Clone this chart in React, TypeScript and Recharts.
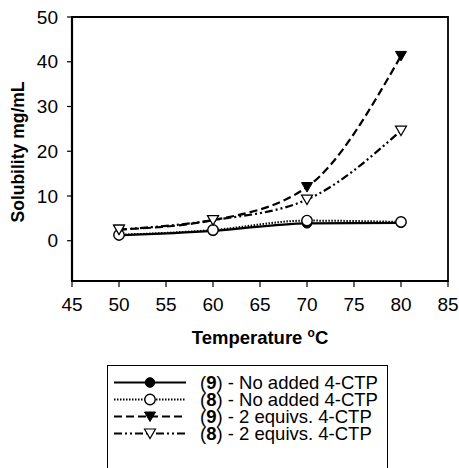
import React from 'react'
import {
  LineChart,
  Line,
  XAxis,
  YAxis,
  Legend,
  ReferenceArea,
} from 'recharts'

const temperatures = [50, 60, 70, 80]
const cmp9None = [1.2, 2.2, 3.9, 4.0]
const cmp8None = [1.3, 2.4, 4.5, 4.2]
const cmp9Equiv = [2.5, 4.6, 12.0, 41.3]
const cmp8Equiv = [2.5, 4.6, 9.2, 24.6]

const xTicks = [45, 50, 55, 60, 65, 70, 75, 80, 85]
const yTicks = [0, 10, 20, 30, 40, 50]

const FONT = '"Liberation Sans", Arial, sans-serif'

const data = temperatures.map((t, i) => ({
  t,
  s9none: cmp9None[i],
  s8none: cmp8None[i],
  s9eq: cmp9Equiv[i],
  s8eq: cmp8Equiv[i],
}))

type MarkerKind = 'fillCircle' | 'openCircle' | 'fillTri' | 'openTri'

function Marker({ kind, cx, cy }: { kind: MarkerKind; cx: number; cy: number }) {
  if (kind === 'fillCircle') return <circle cx={cx} cy={cy} r={4.8} fill="#000" stroke="#000" />
  if (kind === 'openCircle') return <circle cx={cx} cy={cy} r={5.2} fill="#fff" stroke="#000" strokeWidth={1.4} />
  const pts = `${cx - 5.5},${cy - 4.5} ${cx + 5.5},${cy - 4.5} ${cx},${cy + 5}`
  if (kind === 'fillTri') return <polygon points={pts} fill="#000" stroke="#000" strokeWidth={1} />
  return <polygon points={pts} fill="#fff" stroke="#000" strokeWidth={1.2} />
}

const makeDot = (kind: MarkerKind) => (props: any) => {
  const { cx, cy, index } = props
  if (cx == null || cy == null) return <g key={index} />
  return <Marker key={index} kind={kind} cx={cx} cy={cy} />
}

const series = [
  { key: 's9none', num: '9', text: ' - No added 4-CTP', dash: undefined, kind: 'fillCircle' as MarkerKind, width: 2.2 },
  { key: 's8none', num: '8', text: ' - No added 4-CTP', dash: '1.5 1.5', kind: 'openCircle' as MarkerKind, width: 2 },
  { key: 's9eq', num: '9', text: ' - 2 equivs. 4-CTP', dash: '8 4', kind: 'fillTri' as MarkerKind, width: 2.2 },
  { key: 's8eq', num: '8', text: ' - 2 equivs. 4-CTP', dash: '8 3 2 3 2 3', kind: 'openTri' as MarkerKind, width: 2.2 },
]

function LegendBox() {
  return (
    <div
      style={{
        width: 281,
        height: 110,
        border: '1px solid #000',
        background: '#fff',
        boxSizing: 'border-box',
        fontFamily: FONT,
        fontSize: 18.5,
        color: '#000',
        paddingTop: 8,
      }}
    >
      {series.map((s) => (
        <div key={s.key} style={{ display: 'flex', alignItems: 'center', height: 17 }}>
          <svg width={92} height={17} style={{ flex: 'none' }}>
            <line x1={6} x2={78} y1={8.5} y2={8.5} stroke="#000" strokeWidth={s.width} strokeDasharray={s.dash} />
            <Marker kind={s.kind} cx={42} cy={8.5} />
          </svg>
          <span style={{ whiteSpace: 'nowrap', lineHeight: '17px' }}>
            (<b>{s.num}</b>){s.text}
          </span>
        </div>
      ))}
    </div>
  )
}

const YLabel = (props: any) => {
  const { viewBox } = props
  const cy = viewBox.y + viewBox.height / 2 + 3
  return (
    <text
      x={18}
      y={cy}
      transform={`rotate(-90, 18, ${cy})`}
      textAnchor="middle"
      dominantBaseline="central"
      fontFamily={FONT}
      fontSize={17.5}
      fontWeight="bold"
      fill="#000"
    >
      Solubility mg/mL
    </text>
  )
}

const XLabel = (props: any) => {
  const { viewBox } = props
  const cx = viewBox.x + viewBox.width / 2
  return (
    <text x={cx} y={344} textAnchor="middle" fontFamily={FONT} fontSize={18.5} fontWeight="bold" fill="#000">
      Temperature <tspan fontSize={12} dy={-7}>o</tspan>
      <tspan dy={7}>C</tspan>
    </text>
  )
}

export default function App() {
  return (
    <div style={{ position: 'absolute', left: 0, top: 0, width: 459, height: 468, background: '#fff', overflow: 'hidden' }}>
      <LineChart
        width={459}
        height={468}
        data={data}
        margin={{ top: 17, right: 11, left: 0, bottom: 147 }}
      >
        <ReferenceArea
          x1={45}
          x2={85}
          y1={-9}
          y2={50}
          fill="none"
          stroke="#000"
          strokeWidth={1.8}
          ifOverflow="visible"
        />
        <XAxis
          dataKey="t"
          type="number"
          domain={[45, 85]}
          ticks={xTicks}
          interval={0}
          height={40}
          axisLine={{ stroke: '#000', strokeWidth: 2.2 }}
          tickLine={{ stroke: '#000', strokeWidth: 1.2 }}
          tickSize={6}
          tickMargin={11}
          tick={{ fill: '#000', fontSize: 19, fontFamily: FONT }}
          label={<XLabel />}
        />
        <YAxis
          type="number"
          domain={[-9, 50]}
          ticks={yTicks}
          interval={0}
          width={72}
          axisLine={{ stroke: '#000', strokeWidth: 2.2 }}
          tickLine={{ stroke: '#000', strokeWidth: 1.2 }}
          tickSize={5}
          tickMargin={9}
          tick={{ fill: '#000', fontSize: 19, fontFamily: FONT }}
          label={<YLabel />}
        />
        {series.map((s) => (
          <Line
            key={s.key}
            type="monotone"
            dataKey={s.key}
            stroke="#000"
            strokeWidth={s.width}
            strokeDasharray={s.dash}
            dot={makeDot(s.kind)}
            activeDot={false}
            isAnimationActive={false}
          />
        ))}
        <Legend
          layout="vertical"
          align="center"
          verticalAlign="middle"
          content={() => <LegendBox />}
          wrapperStyle={{ left: 107, top: 365, width: 281, height: 110 }}
        />
      </LineChart>
    </div>
  )
}
